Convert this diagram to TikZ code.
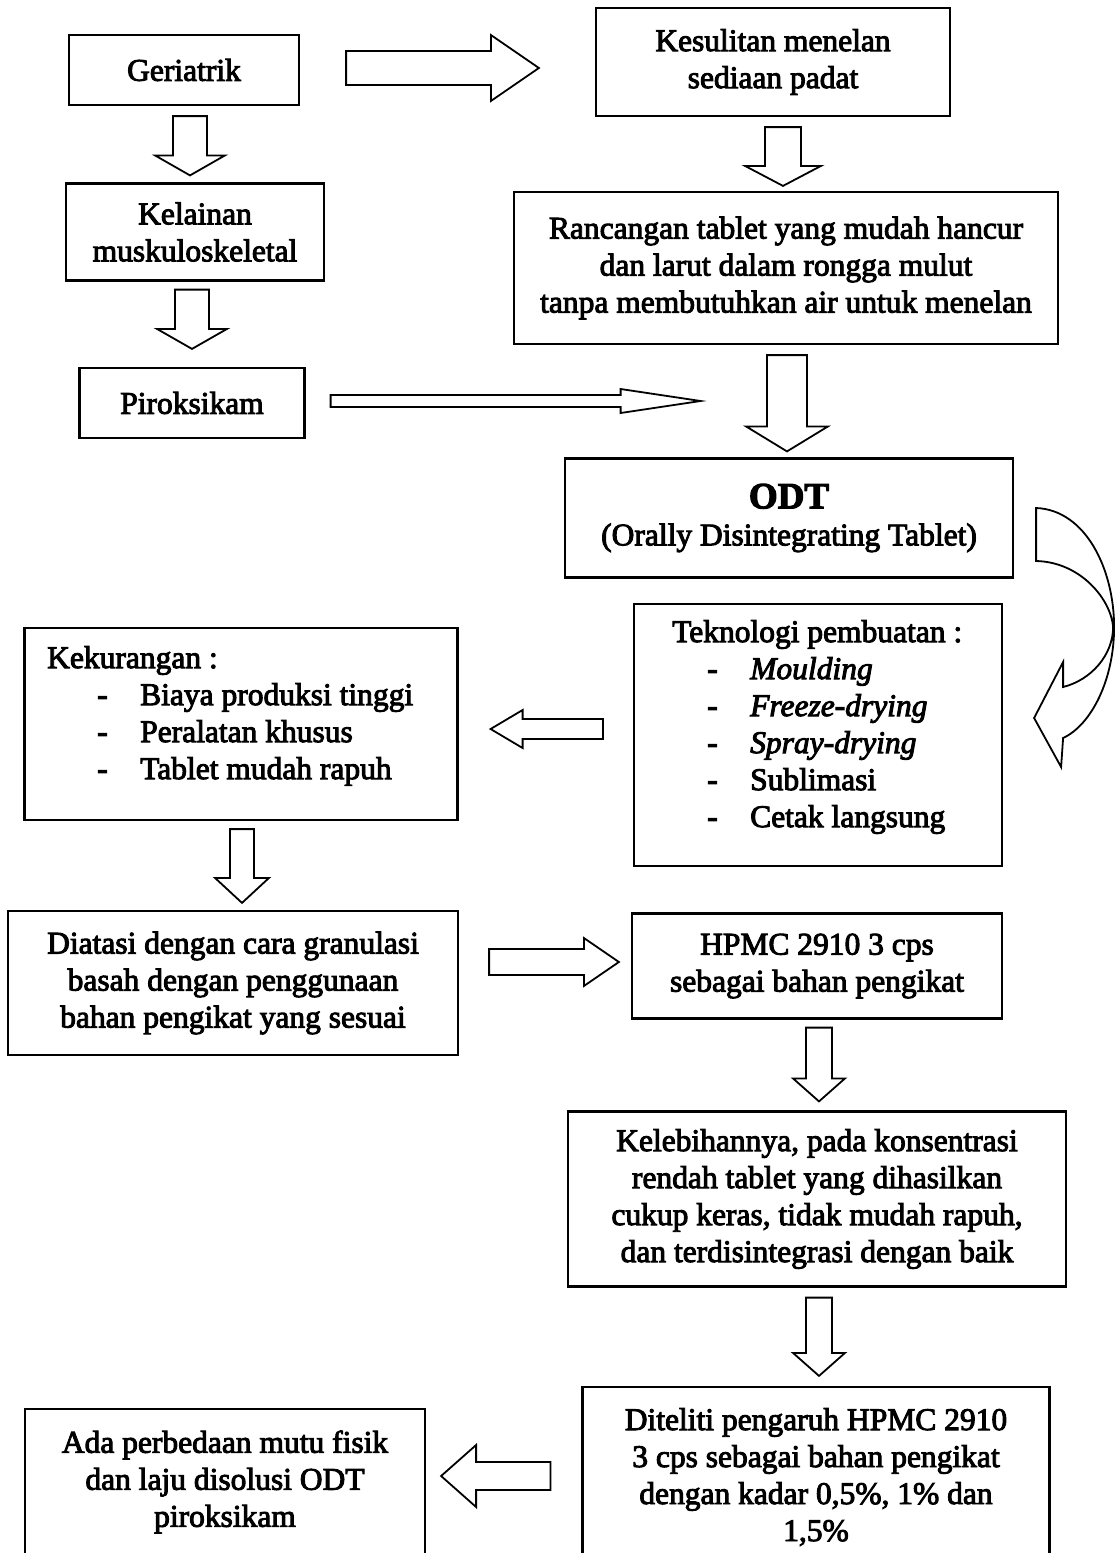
\documentclass[tikz,border=0pt]{standalone}
\usepackage{fontspec}
\setmainfont{Liberation Serif}
\newfontfamily\tebal{Liberation Serif}[FakeBold=3]
\usetikzlibrary{calc}

\tikzset{
  kotak/.style={draw, line width=2.2pt, align=center, inner sep=0pt},
  isi/.style={font=\tebal\fontsize{31.5}{37}\selectfont},
  panah/.style={draw, line width=1.8pt, fill=white, line join=miter},
  daftar/.style={anchor=north west, align=left, inner sep=0pt}
}

\newcommand{\panahblok}[5]{%
  \path[panah] let \p1=#1, \p2=#2, \n1={atan2(\y2-\y1,\x2-\x1)}, \n2={veclen(\x2-\x1,\y2-\y1)} in
    [shift={(\p1)}, rotate=\n1]
    (0,#3) -- ({\n2-#5},#3) -- ({\n2-#5},#4) -- (\n2,0) -- ({\n2-#5},-#4) -- ({\n2-#5},-#3) -- (0,-#3) -- cycle;}
\newcommand{\butir}[3]{\hspace*{#1pt}\makebox[#2pt][l]{-}#3}

\begin{document}
\begin{tikzpicture}[x=1pt, y=-1pt, isi]
            \useasboundingbox (0,0) rectangle (1115,1553);
            \clip (0,0) rectangle (1115,1553);
            \node[kotak, minimum width=230, minimum height=70] (geri) at (184,70) {Geriatrik};
            \node[kotak, minimum width=258, minimum height=97] (kel) at (195,232) {Kelainan\\muskuloskeletal};
            \node[kotak, minimum width=225, minimum height=70] (pir) at (192,403) {Piroksikam};
            \node[kotak, minimum width=354, minimum height=108] (kes) at (773,62) {Kesulitan menelan\\sediaan padat};
            \node[kotak, minimum width=544, minimum height=152] (ran) at (786,268) {Rancangan tablet yang mudah hancur\\dan larut dalam rongga mulut\\tanpa membutuhkan air untuk menelan};
            \node[kotak, minimum width=448, minimum height=119] (odt) at (789,518) {{\fontsize{37}{40}\selectfont\bfseries ODT}\\(Orally Disintegrating Tablet)};
            \node[kotak, minimum width=368, minimum height=262] (tek) at (818,735) {};
            \node[daftar] (tekisi) at (672,620) {Teknologi pembuatan :\\\butir{35}{43}{\textit{Moulding}}\\\butir{35}{43}{\textit{Freeze-drying}}\\\butir{35}{43}{\textit{Spray-drying}}\\\butir{35}{43}{Sublimasi}\\\butir{35}{43}{Cetak langsung}};
            \node[kotak, minimum width=433, minimum height=192] (kek) at (241,724) {};
            \node[daftar] (kekisi) at (47,646) {Kekurangan :\\\butir{50}{43}{Biaya produksi tinggi}\\\butir{50}{43}{Peralatan khusus}\\\butir{50}{43}{Tablet mudah rapuh}};
            \node[kotak, minimum width=450, minimum height=144] (dia) at (233,983) {Diatasi dengan cara granulasi\\basah dengan penggunaan\\bahan pengikat yang sesuai};
            \node[kotak, minimum width=370, minimum height=105] (hpmc) at (817,966) {HPMC 2910 3 cps\\sebagai bahan pengikat};
            \node[kotak, minimum width=498, minimum height=175] (leb) at (817,1199) {Kelebihannya, pada konsentrasi\\rendah tablet yang dihasilkan\\cukup keras, tidak mudah rapuh,\\dan terdisintegrasi dengan baik};
            \node[kotak, minimum width=467, minimum height=180] (dit) at (816,1477) {Diteliti pengaruh HPMC 2910\\3 cps sebagai bahan pengikat\\dengan kadar 0,5\%, 1\% dan\\1,5\%};
            \node[kotak, minimum width=400, minimum height=146] (ada) at (225,1482) {Ada perbedaan mutu fisik\\dan laju disolusi ODT\\piroksikam};
            \panahblok{($(geri.east)+(46,-2)$)}{($(kes.west)+(-56,6)$)}{17}{33}{48}
            \panahblok{($(geri.south)+(6,10)$)}{($(kel.north)+(-5,-7)$)}{17}{35}{20}
            \panahblok{($(kel.south)+(-3,8)$)}{($(pir.north)+(0,-18)$)}{17}{35}{20}
            \panahblok{($(pir.east)+(25,-2)$)}{($(pir.east)+(395,-2)$)}{6}{12}{80}
            \panahblok{($(kes.south)+(10,10)$)}{($(ran.north)+(-3,-5)$)}{18}{38}{20}
            \panahblok{($(ran.south)+(1,10)$)}{($(odt.north)+(-2,-6)$)}{20}{41}{25}
            \panahblok{($(tek.west)+(-30,-6)$)}{($(kek.east)+(32,5)$)}{10}{19}{32}
            \panahblok{($(kek.south)+(1,8)$)}{($(dia.north)+(9,-7)$)}{12}{27}{25}
            \panahblok{($(dia.east)+(30,-21)$)}{($(hpmc.west)+(-12,-4)$)}{13}{24}{35}
            \panahblok{($(hpmc.south)+(2,8)$)}{($(leb.north)+(2,-9)$)}{13}{26}{23}
            \panahblok{($(leb.south)+(2,10)$)}{($(dit.north)+(3,-10)$)}{13}{26}{23}
            \panahblok{($(dit.west)+(-31,-1)$)}{($(ada.east)+(15,-6)$)}{14}{31}{35}
            \begin{scope}[shift={(odt.east)}]
              \path[panah] (22,-10) .. controls (72,-8) and (100,52) .. (100,109)
                .. controls (100,162) and (77,207) .. (49,220) -- (47,249) -- (20,200) -- (49,144) -- (49,169)
                .. controls (77,162) and (99,137) .. (99,109) .. controls (97,82) and (67,44) .. (22,43) -- cycle;
            \end{scope}
\end{tikzpicture}
\end{document}
